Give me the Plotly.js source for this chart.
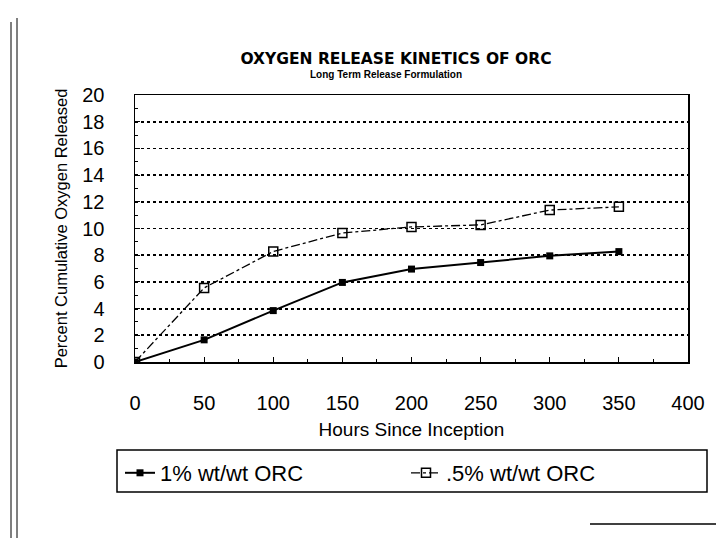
<!DOCTYPE html>
<html>
<head>
<meta charset="utf-8">
<script src="https://cdn.plot.ly/plotly-3.0.1.min.js"></script>
<style>html,body{margin:0;padding:0;background:#fff;}#chart{width:716px;height:538px;}</style>
</head>
<body>
<div id="chart"></div>
<script>
// Data
const hours = [0, 50, 100, 150, 200, 250, 300, 350];
const orc1pct = [0, 1.66, 3.85, 5.96, 6.96, 7.45, 7.95, 8.27];
const orcHalfPct = [0, 5.55, 8.28, 9.66, 10.12, 10.27, 11.38, 11.62];
const seriesNames = ["1% wt/wt ORC", ".5% wt/wt ORC"];
const xTicks = [0, 50, 100, 150, 200, 250, 300, 350, 400];
const yTicks = [0, 2, 4, 6, 8, 10, 12, 14, 16, 18, 20];

const W = 716, H = 538;
const L = 135, R = 28, T = 95, B = 176;
const pw = W - L - R, ph = H - T - B;
const px = v => (v - L) / pw;      // pixel -> paper x
const py = v => (H - B - v) / ph;  // pixel -> paper y

const traces = [
  {
    x: hours, y: orc1pct, name: seriesNames[0], type: 'scatter', mode: 'lines+markers',
    line: {color: '#000', width: 2},
    marker: {symbol: 'square', size: 7, color: '#000'}
  },
  {
    x: hours, y: orcHalfPct, name: seriesNames[1], type: 'scatter', mode: 'lines+markers',
    line: {color: '#000', width: 1.3, dash: 'dashdot'},
    marker: {symbol: 'square-open', size: 9, color: '#000', line: {width: 1.5, color: '#000'}}
  }
];

const tickFont = {family: 'Liberation Sans, Arial, sans-serif', size: 20, color: '#000'};

const layout = {
  width: W, height: H,
  margin: {l: L, r: R, t: T, b: B},
  paper_bgcolor: '#fff', plot_bgcolor: '#fff',
  showlegend: true,
  title: {
    text: '<b>OXYGEN RELEASE KINETICS OF ORC</b>',
    font: {family: 'DejaVu Sans, sans-serif', size: 15.5, color: '#000'},
    x: 396 / W, xanchor: 'center', xref: 'container',
    y: 1 - 59 / H, yanchor: 'middle', yref: 'container'
  },
  xaxis: {
    range: [0, 400], tickvals: xTicks, ticktext: xTicks.map(String),
    showgrid: false, zeroline: false,
    showline: true, linecolor: '#000', linewidth: 1.5, mirror: true,
    ticks: 'inside', ticklen: 5, tickcolor: '#000', tickwidth: 1,
    minor: {dtick: 25, ticks: 'inside', ticklen: 3, tickcolor: '#000', showgrid: false},
    tickfont: tickFont, ticklabelstandoff: 22,
    title: {text: 'Hours Since Inception', font: {family: 'Liberation Sans, Arial, sans-serif', size: 19, color: '#000'}, standoff: 10}
  },
  yaxis: {
    range: [0, 20], tickvals: yTicks, ticktext: yTicks.map(String),
    showgrid: true, gridcolor: '#000', gridwidth: 1.8, griddash: 'dot',
    zeroline: false,
    showline: true, linecolor: '#000', linewidth: 1.5, mirror: true,
    ticks: 'inside', ticklen: 5, tickcolor: '#000', tickwidth: 1,
    minor: {dtick: 1, ticks: 'inside', ticklen: 3, tickcolor: '#000', showgrid: false},
    tickfont: tickFont, ticklabelstandoff: 25,
    title: {text: 'Percent Cumulative Oxygen Released', font: {family: 'Liberation Sans, Arial, sans-serif', size: 16.5, color: '#000'}, standoff: 10}
  },
  legend: {
    orientation: 'h',
    x: px(120), xanchor: 'left', y: py(452), yanchor: 'top',
    bgcolor: 'rgba(0,0,0,0)', borderwidth: 0,
    font: {family: 'Liberation Sans, Arial, sans-serif', size: 22, color: '#000'},
    entrywidth: 241, entrywidthmode: 'pixels',
    itemwidth: 30, tracegroupgap: 0
  },
  annotations: [
    {
      text: '<b>Long Term Release Formulation</b>', showarrow: false,
      xref: 'paper', yref: 'paper', x: px(386), y: py(74), xanchor: 'center', yanchor: 'middle',
      font: {family: 'Liberation Sans, Arial, sans-serif', size: 10, color: '#000'}
    }
  ],
  shapes: [
    {type: 'rect', xref: 'paper', yref: 'paper', x0: px(117), x1: px(707), y0: py(450), y1: py(492),
     line: {color: '#000', width: 1.5}, fillcolor: 'rgba(0,0,0,0)'},
    {type: 'line', xref: 'paper', yref: 'paper', x0: px(11), x1: px(11), y0: py(22), y1: py(538),
     line: {color: '#000', width: 1}},
    {type: 'line', xref: 'paper', yref: 'paper', x0: px(17), x1: px(17), y0: py(18), y1: py(538),
     line: {color: '#000', width: 1}},
    {type: 'line', xref: 'paper', yref: 'paper', x0: px(590), x1: px(716), y0: py(524), y1: py(524),
     line: {color: '#000', width: 1.5}}
  ]
};

Plotly.newPlot('chart', traces, layout, {displayModeBar: false, staticPlot: true});
</script>
</body>
</html>
